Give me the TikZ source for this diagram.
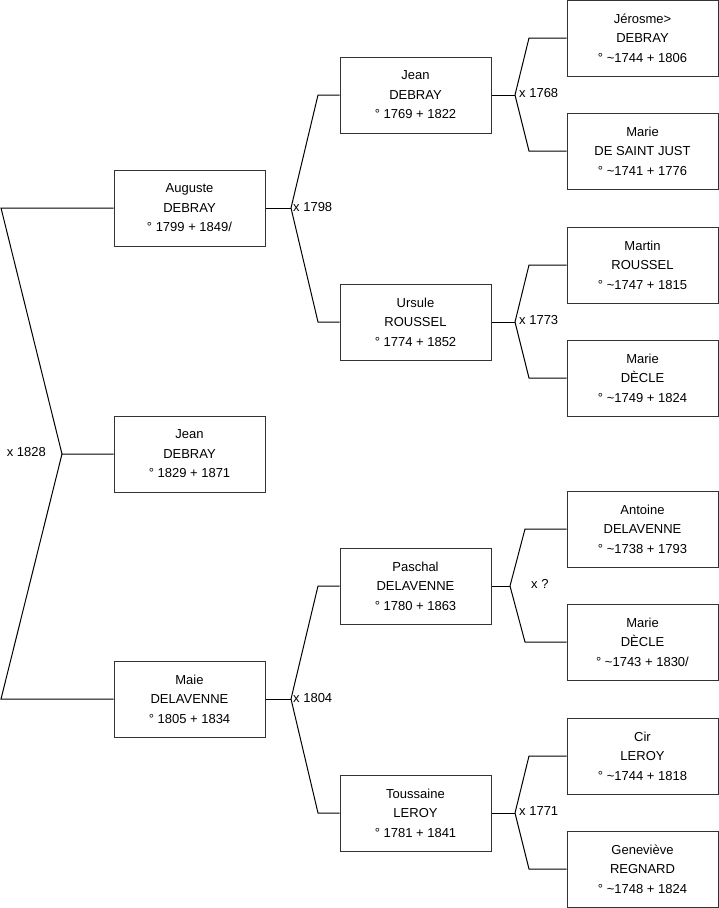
\documentclass[tikz,border=0pt]{standalone}
\usepackage{fontspec}
\setmainfont{Liberation Sans}
\begin{document}
\begin{tikzpicture}[x=1pt,y=-1pt,
  person/.style={draw=black!80, line width=1pt, fill=white, minimum width=151pt, minimum height=76pt,
    inner sep=0pt, align=center, font=\fontsize{13}{19.5}\selectfont},
  link/.style={draw=black, line width=1pt},
  lbl/.style={font=\fontsize{13}{15}\selectfont, inner sep=0pt}]
\useasboundingbox (0,0) rectangle (719,908);
% generation 1
\node[person] (aug) at (189.5,208) {Auguste\\DEBRAY\\° 1799 + 1849/};
\node[person] (jean1) at (189.5,454) {Jean\\DEBRAY\\° 1829 + 1871};
\node[person] (maie) at (189.5,699) {Maie\\DELAVENNE\\° 1805 + 1834};
% generation 2
\node[person] (jean2) at (415.5,95) {Jean\\DEBRAY\\° 1769 + 1822};
\node[person] (urs) at (415.5,322) {Ursule\\ROUSSEL\\° 1774 + 1852};
\node[person] (pas) at (415.5,586) {Paschal\\DELAVENNE\\° 1780 + 1863};
\node[person] (tou) at (415.5,813) {Toussaine\\LEROY\\° 1781 + 1841};
% generation 3
\node[person] (jer) at (642.5,38) {Jérosme>\\DEBRAY\\° \textasciitilde1744 + 1806};
\node[person] (msj) at (642.5,151) {Marie\\DE SAINT JUST\\° \textasciitilde1741 + 1776};
\node[person] (mar) at (642.5,265) {Martin\\ROUSSEL\\° \textasciitilde1747 + 1815};
\node[person] (md1) at (642.5,378) {Marie\\DÈCLE\\° \textasciitilde1749 + 1824};
\node[person] (ant) at (642.5,529) {Antoine\\DELAVENNE\\° \textasciitilde1738 + 1793};
\node[person] (md2) at (642.5,642) {Marie\\DÈCLE\\° \textasciitilde1743 + 1830/};
\node[person] (cir) at (642.5,756) {Cir\\LEROY\\° \textasciitilde1744 + 1818};
\node[person] (gen) at (642.5,869) {Geneviève\\REGNARD\\° \textasciitilde1748 + 1824};
% root connectors
\coordinate (r) at (62,454);
\coordinate (ra) at (1,208);
\coordinate (rm) at (1,699);
\draw[link] (jean1.west) -- (r) -- (ra) -- (aug.west);
\draw[link] (r) -- (rm) -- (maie.west);
\node[lbl, anchor=east] (l1828) at (46,452) {x 1828};
% Auguste
\coordinate (ja) at (291,208);
\draw[link] (aug.east) -- (ja);
\draw[link] (ja) -- (318,95) -- (jean2.west);
\draw[link] (ja) -- (318,322) -- (urs.west);
\node[lbl, anchor=west] (l1798) at (293,207) {x 1798};
% Maie
\coordinate (jm) at (291,699);
\draw[link] (maie.east) -- (jm);
\draw[link] (jm) -- (318,586) -- (pas.west);
\draw[link] (jm) -- (318,813) -- (tou.west);
\node[lbl, anchor=west] (l1804) at (293,698) {x 1804};
% Jean gen2
\coordinate (jj) at (515,95);
\draw[link] (jean2.east) -- (jj);
\draw[link] (jj) -- (529,38) -- (jer.west);
\draw[link] (jj) -- (529,151) -- (msj.west);
\node[lbl, anchor=west] (l1768) at (519,93) {x 1768};
% Ursule
\coordinate (ju) at (515,322);
\draw[link] (urs.east) -- (ju);
\draw[link] (ju) -- (529,265) -- (mar.west);
\draw[link] (ju) -- (529,378) -- (md1.west);
\node[lbl, anchor=west] (l1773) at (519,320) {x 1773};
% Paschal
\coordinate (jp) at (510,586);
\draw[link] (pas.east) -- (jp);
\draw[link] (jp) -- (525,529) -- (ant.west);
\draw[link] (jp) -- (525,642) -- (md2.west);
\node[lbl, anchor=west] (lq) at (531,584) {x ?};
% Toussaine
\coordinate (jt) at (515,813);
\draw[link] (tou.east) -- (jt);
\draw[link] (jt) -- (529,756) -- (cir.west);
\draw[link] (jt) -- (529,869) -- (gen.west);
\node[lbl, anchor=west] (l1771) at (519,811) {x 1771};
\end{tikzpicture}
\end{document}
